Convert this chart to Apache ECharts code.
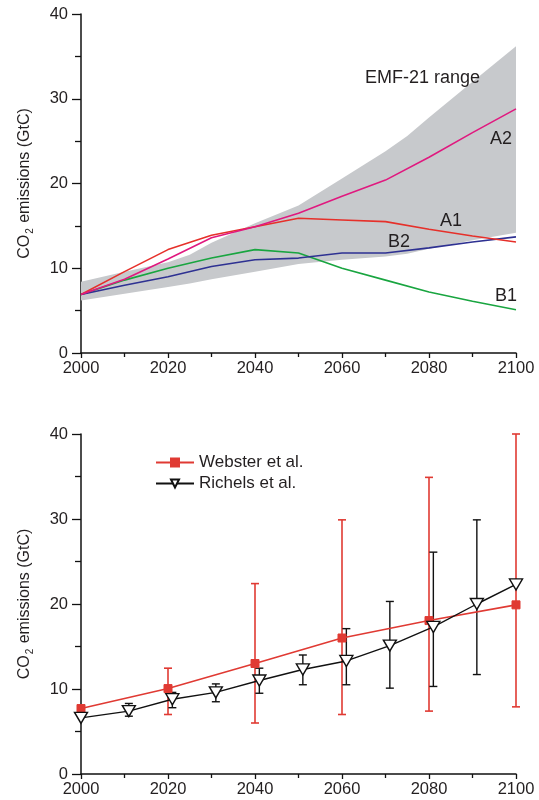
<!DOCTYPE html>
<html>
<head>
<meta charset="utf-8">
<script src="https://cdn.jsdelivr.net/npm/echarts@6/dist/echarts.min.js"></script>
<style>
  html, body { margin: 0; padding: 0; background: #fff; }
  #chart { width: 539px; height: 800px; }
</style>
</head>
<body>
<div id="chart"></div>
<script>
// ---------- Top panel: SRES scenarios & EMF-21 range ----------
const scenYears = [2000, 2010, 2020, 2030, 2040, 2050, 2060, 2070, 2080, 2090, 2100];
const a2 = [6.9, 8.7, 11.1, 13.6, 14.9, 16.5, 18.5, 20.4, 23.1, 26.0, 28.8];
const a1 = [6.9, 9.6, 12.2, 13.9, 14.9, 15.9, 15.7, 15.5, 14.6, 13.8, 13.1];
const b1 = [6.9, 8.6, 10.0, 11.2, 12.2, 11.8, 10.0, 8.6, 7.2, 6.1, 5.1];
const b2 = [6.9, 8.0, 9.0, 10.2, 11.0, 11.2, 11.8, 11.8, 12.4, 13.1, 13.7];

const emfYears = [2000, 2010, 2020, 2025, 2030, 2040, 2050, 2060, 2070, 2075, 2080, 2090, 2100];
const emfUpper = [8.4, 9.6, 10.7, 11.6, 13.0, 15.3, 17.4, 20.6, 23.8, 25.6, 27.8, 32.0, 36.2];
const emfLower = [6.2, 7.0, 7.8, 8.2, 8.7, 9.6, 10.5, 11.0, 11.4, 11.7, 12.3, 13.3, 14.2];

// ---------- Bottom panel: Webster / Richels ----------
const websterYears = [2000, 2020, 2040, 2060, 2080, 2100];
const websterVals = [7.7, 10.05, 13.0, 16.0, 18.05, 19.9];
const websterLow = [null, 7.0, 6.0, 7.0, 7.4, 7.9];
const websterHigh = [null, 12.45, 22.4, 29.9, 34.9, 40.0];

const richelsYears = [2000, 2011, 2021, 2031, 2041, 2051, 2061, 2071, 2081, 2091, 2100];
const richelsVals = [6.6, 7.4, 8.8, 9.6, 11.0, 12.3, 13.3, 15.1, 17.3, 20.0, 22.3];
const richelsLow = [null, 6.8, 7.8, 8.5, 9.5, 10.5, 10.5, 10.1, 10.3, 11.7, null];
const richelsHigh = [null, 8.3, 9.6, 10.6, 12.45, 14.0, 17.1, 20.3, 26.1, 29.9, null];

const xTicks = { min: 2000, max: 2100, interval: 20 };
const yTicks = { min: 0, max: 40, interval: 10 };

const FONT = 'Liberation Sans, Arial, Helvetica, sans-serif';
const INK = '#231f20';

function pairs(xs, ys) { return xs.map((x, i) => [x, ys[i]]); }
function errData(xs, lo, hi) {
  const out = [];
  xs.forEach((x, i) => { if (lo[i] != null && hi[i] != null) out.push([x, lo[i], hi[i]]); });
  return out;
}
function errRender(color, width) {
  return function (params, api) {
    const x = api.value(0), lo = api.value(1), hi = api.value(2);
    const pLo = api.coord([x, lo]);
    const pHi = api.coord([x, hi]);
    const w = 4;
    const st = { stroke: color, lineWidth: width };
    return {
      type: 'group',
      children: [
        { type: 'line', shape: { x1: pLo[0], y1: pLo[1], x2: pHi[0], y2: pHi[1] }, style: st },
        { type: 'line', shape: { x1: pHi[0] - w, y1: pHi[1], x2: pHi[0] + w, y2: pHi[1] }, style: st },
        { type: 'line', shape: { x1: pLo[0] - w, y1: pLo[1], x2: pLo[0] + w, y2: pLo[1] }, style: st }
      ]
    };
  };
}
// EMF-21 band: one polygon (upper edge forward, lower edge back), drawn via the axis scales
function bandRender(params, api) {
  if (params.dataIndex !== 0) return;
  const pts = [];
  for (let i = 0; i < emfYears.length; i++) pts.push(api.coord([emfYears[i], emfUpper[i]]));
  for (let i = emfYears.length - 1; i >= 0; i--) pts.push(api.coord([emfYears[i], emfLower[i]]));
  return { type: 'polygon', shape: { points: pts }, style: { fill: '#c7c9cc', stroke: null } };
}

function xAxisCfg(gi) {
  return {
    gridIndex: gi, type: 'value', min: xTicks.min, max: xTicks.max, interval: xTicks.interval,
    axisLine: { show: true, onZero: false, lineStyle: { color: '#111', width: 1.5 } },
    axisTick: { show: true, inside: false, length: 5, lineStyle: { color: '#111', width: 1.3 } },
    minorTick: { show: true, splitNumber: 2, length: 4, lineStyle: { color: '#111', width: 1.3 } },
    splitLine: { show: false },
    axisLabel: { fontSize: 16.5, color: INK, fontFamily: FONT, margin: 7, formatter: v => String(v) }
  };
}
function yAxisCfg(gi) {
  return {
    gridIndex: gi, type: 'value', min: yTicks.min, max: yTicks.max, interval: yTicks.interval,
    name: '{a|CO}{s|2}{a| emissions (GtC)}',
    nameLocation: 'middle', nameRotate: 90, nameGap: 46,
    nameTextStyle: {
      rich: {
        a: { fontSize: 16, color: INK, fontFamily: FONT, lineHeight: 21 },
        s: { fontSize: 10, color: INK, fontFamily: FONT, lineHeight: 21, verticalAlign: 'bottom', padding: [6, 1, 0, 1] }
      }
    },
    axisLine: { show: true, onZero: false, lineStyle: { color: '#111', width: 1.5 } },
    axisTick: { show: true, inside: false, length: 9, lineStyle: { color: '#111', width: 1.3 } },
    minorTick: { show: true, splitNumber: 2, length: 6, lineStyle: { color: '#111', width: 1.3 } },
    splitLine: { show: false },
    axisLabel: { fontSize: 16.5, color: INK, fontFamily: FONT, margin: 13 }
  };
}

const chart = echarts.init(document.getElementById('chart'), null, { renderer: 'canvas' });

const lineBase = { type: 'line', xAxisIndex: 0, yAxisIndex: 0, symbol: 'none', smooth: false, silent: true };
const annot = { fontSize: 18, fill: INK, fontFamily: FONT };

const option = {
  animation: false,
  backgroundColor: '#fff',
  grid: [
    { left: 81, right: 23, top: 14, bottom: 447 },
    { left: 81, right: 23, top: 434, bottom: 26 }
  ],
  xAxis: [xAxisCfg(0), xAxisCfg(1)],
  yAxis: [yAxisCfg(0), yAxisCfg(1)],
  legend: {
    orient: 'vertical', left: 150, top: 449, itemGap: 4,
    itemWidth: 38, itemHeight: 10,
    textStyle: { fontSize: 17, color: INK, fontFamily: FONT },
    data: ['Webster et al.', 'Richels et al.']
  },
  graphic: {
    elements: [
      { type: 'text', z: 100, left: 365, top: 69, style: Object.assign({ text: 'EMF-21 range' }, annot) },
      { type: 'text', z: 100, left: 490, top: 130, style: Object.assign({ text: 'A2' }, annot) },
      { type: 'text', z: 100, left: 440, top: 212, style: Object.assign({ text: 'A1' }, annot) },
      { type: 'text', z: 100, left: 388, top: 233, style: Object.assign({ text: 'B2' }, annot) },
      { type: 'text', z: 100, left: 495, top: 287, style: Object.assign({ text: 'B1' }, annot) }
    ]
  },
  series: [
    {
      type: 'custom', name: 'EMF-21 range', xAxisIndex: 0, yAxisIndex: 0, silent: true, z: 1,
      renderItem: bandRender, encode: { x: 0, y: [1, 2] },
      data: emfYears.map((x, i) => [x, emfLower[i], emfUpper[i]])
    },
    Object.assign({}, lineBase, { name: 'B1', data: pairs(scenYears, b1), lineStyle: { color: '#19a540', width: 1.6 }, z: 3 }),
    Object.assign({}, lineBase, { name: 'B2', data: pairs(scenYears, b2), lineStyle: { color: '#2e3192', width: 1.6 }, z: 3 }),
    Object.assign({}, lineBase, { name: 'A1', data: pairs(scenYears, a1), lineStyle: { color: '#e6302a', width: 1.6 }, z: 3 }),
    Object.assign({}, lineBase, { name: 'A2', data: pairs(scenYears, a2), lineStyle: { color: '#e0197f', width: 1.6 }, z: 3 }),

    {
      type: 'custom', name: 'websterErr', xAxisIndex: 1, yAxisIndex: 1, silent: true, z: 2,
      renderItem: errRender('#e03a33', 1.6), encode: { x: 0, y: [1, 2] },
      data: errData(websterYears, websterLow, websterHigh)
    },
    {
      type: 'custom', name: 'richelsErr', xAxisIndex: 1, yAxisIndex: 1, silent: true, z: 2,
      renderItem: errRender('#111', 1.4), encode: { x: 0, y: [1, 2] },
      data: errData(richelsYears, richelsLow, richelsHigh)
    },
    {
      type: 'line', name: 'Webster et al.', xAxisIndex: 1, yAxisIndex: 1, silent: true, z: 4,
      data: pairs(websterYears, websterVals),
      symbol: 'rect', symbolSize: 8, showAllSymbol: true,
      lineStyle: { color: '#e03a33', width: 1.6 },
      itemStyle: { color: '#e03a33', borderColor: '#e03a33', borderWidth: 1 }
    },
    {
      type: 'line', name: 'Richels et al.', xAxisIndex: 1, yAxisIndex: 1, silent: true, z: 5,
      data: pairs(richelsYears, richelsVals),
      symbol: 'triangle', symbolRotate: 180, symbolSize: [13, 11], showAllSymbol: true,
      lineStyle: { color: '#111', width: 1.4 },
      itemStyle: { color: '#fff', borderColor: '#111', borderWidth: 1.4 }
    }
  ]
};
chart.setOption(option);
</script>
</body>
</html>
